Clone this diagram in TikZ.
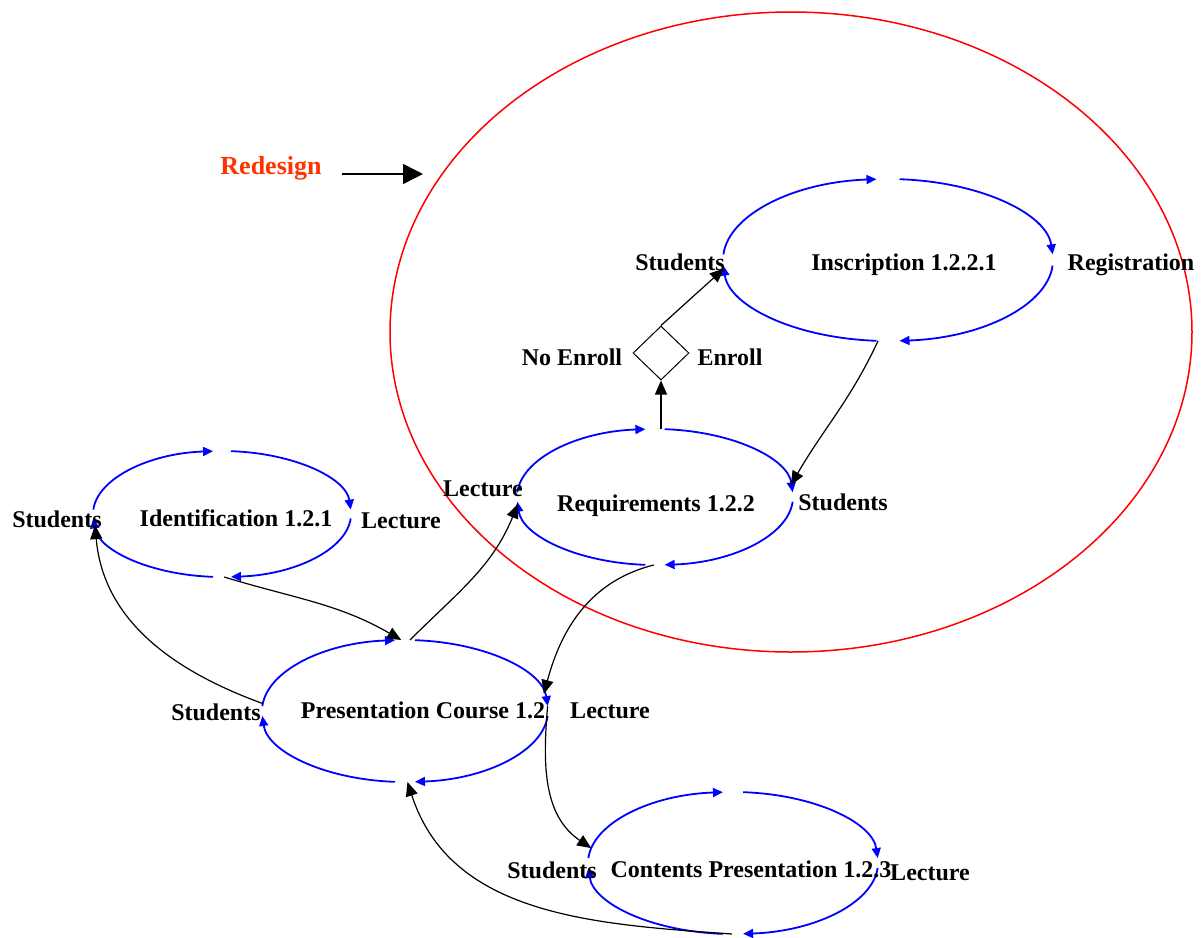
\documentclass[tikz,border=0pt]{standalone}
\usepackage{fontspec}
\setmainfont{Liberation Serif}
\usepackage{tikz}
\usetikzlibrary{arrows.meta,shapes.geometric}

\definecolor{redesign}{RGB}{255,51,0}
\tikzset{
  proc/.style 2 args={ellipse, inner sep=0pt, outer sep=0pt,
    minimum width=#1pt, minimum height=#2pt},
  loopline/.style={blue, line width=0.9pt, -{Triangle[length=5pt,width=4.5pt]}},
  flow/.style={line width=0.6pt, -{Triangle[length=7pt,width=6pt]}},
  lbl/.style={font=\bfseries\fontsize{12}{14}\selectfont, inner sep=0pt,
    text height=8pt, text depth=0pt},
}
\newcommand\procloop[3]{%
  \foreach \angA/\angB in {176/94,86/4,-4/-86,-94/-176}
    \draw[loopline] ([shift={(\angA:#2 and #3)}]#1.center)
      arc[start angle=\angA, end angle=\angB, x radius=#2, y radius=#3];
}

\begin{document}
\begin{tikzpicture}[x=0.5pt, y=0.5pt]
    \useasboundingbox (0,0) rectangle (1201,-938);
    \draw[red, line width=0.75pt] (791,-332) ellipse [x radius=401, y radius=320];
    \node[font=\bfseries\fontsize{13}{15}\selectfont, text=redesign, inner sep=0pt] (redesign) at (271,-168) {Redesign};
    \coordinate (redesigntip) at (423,-174);
    \draw[line width=0.75pt, -{Triangle[length=10pt,width=10pt]}] ([xshift=10pt]redesign.east |- redesigntip) -- (redesigntip);

    \node[proc={165}{81}] (ins) at (888,-260) {};
    \node[proc={138}{68}] (req) at (655,-497) {};
    \node[proc={129}{63}] (ident) at (222,-514) {};
    \node[proc={143}{71}] (pres) at (405,-711) {};
    \node[proc={145}{71}] (cont) at (733,-863) {};
    \node[draw, diamond, inner sep=0pt, minimum width=28pt, minimum height=27pt, line width=0.5pt] (dec) at (661,-353) {};

    \procloop{ins}{165}{81}
    \procloop{req}{138}{68}
    \procloop{ident}{129}{63}
    \procloop{pres}{143}{71}
    \procloop{cont}{145}{71}

    \draw[flow] (ident.-88) to[out=-17, in=150] (pres.93);
    \draw[flow] (pres.86) to[out=45, in=-112] (req.183);
    \draw[flow] (req.-91) to[out=194, in=75] (pres.7);
    \draw[flow] (pres.2) to[out=-95, in=146] (cont.174);
    \draw[flow] (cont.-91) to[out=176, in=-72] (pres.-88);
    \draw[flow] (pres.177) to[out=160, in=-85] (ident.185);
    \draw[flow] (dec.south |- req.north) -- (dec.south);
    \draw[flow] (dec.north) -- (ins.183);
    \draw[flow] (ins.-97) to[out=-115, in=60] (req.5);

    \node[lbl] (sins) at (680,-262) {Students};
    \node[lbl] (tins) at (904,-262) {Inscription 1.2.2.1};
    \node[lbl] (reg) at (1131,-262) {Registration};
    \node[lbl] (noenr) at (572,-357) {No Enroll};
    \node[lbl] (enr) at (730,-357) {Enroll};
    \node[lbl] (lreq) at (483,-488) {Lecture};
    \node[lbl] (treq) at (656,-503) {Requirements 1.2.2};
    \node[lbl] (sreq) at (843,-502) {Students};
    \node[lbl] (sid) at (57,-519) {Students};
    \node[lbl] (tid) at (236,-518) {Identification 1.2.1};
    \node[lbl] (lid) at (401,-520) {Lecture};
    \node[lbl] (spres) at (216,-712) {Students};
    \node[lbl] (tpres) at (423,-710) {Presentation Course 1.2};
    \node[lbl] (lpres) at (610,-710) {Lecture};
    \node[lbl] (scont) at (552,-870) {Students};
    \node[lbl] (tcont) at (751,-869) {Contents Presentation 1.2.3};
    \node[lbl] (lcont) at (930,-872) {Lecture};
\end{tikzpicture}
\end{document}
